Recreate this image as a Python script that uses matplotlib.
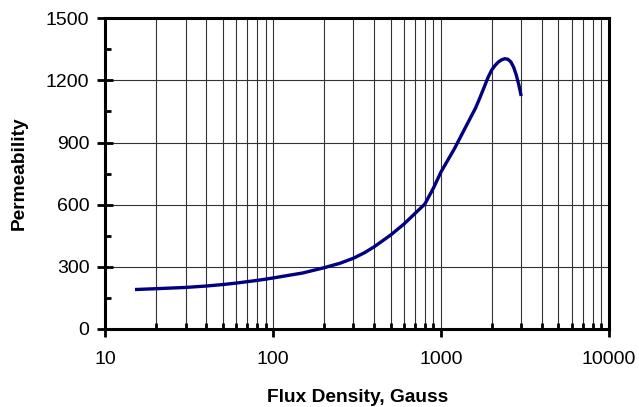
import matplotlib
matplotlib.use("Agg")
import matplotlib.pyplot as plt
from matplotlib.ticker import LogLocator, MultipleLocator, FixedLocator, NullFormatter

# Permeability curve
flux = [15, 20, 30, 40, 50, 60, 70, 80, 90, 100, 150, 200, 250, 300, 350, 400, 500, 600,
        700, 800, 900, 1000, 1200, 1400, 1600, 1700, 1800, 1900, 2000, 2100, 2200, 2300,
        2400, 2500, 2600, 2700, 2800, 2900, 3000]
perm = [190, 194, 200, 207, 214, 221, 228, 234, 240, 246, 270, 295, 317, 341, 368, 397, 453, 506,
        558, 603, 680, 759, 870, 975, 1065, 1115, 1165, 1213, 1250, 1273, 1290, 1300,
        1305, 1302, 1290, 1265, 1228, 1180, 1125]

x_ticks = [10, 100, 1000, 10000]
y_ticks = [0, 300, 600, 900, 1200, 1500]

plt.rcParams['font.family'] = ['Liberation Sans', 'DejaVu Sans']

fig = plt.figure(figsize=(6.39, 4.07), dpi=100)
ax = fig.add_axes([0.165, 0.192, 0.788, 0.763])

ax.plot(flux, perm, color='#000080', linewidth=2.4, solid_capstyle='butt',
        solid_joinstyle='round', zorder=3)

ax.set_xscale('log')
ax.set_xlim(10, 10000)
ax.set_ylim(0, 1500)

ax.xaxis.set_major_locator(FixedLocator(x_ticks))
ax.set_xticklabels([str(t) for t in x_ticks])
ax.xaxis.set_minor_locator(LogLocator(base=10, subs=range(2, 10)))
ax.xaxis.set_minor_formatter(NullFormatter())
ax.yaxis.set_major_locator(FixedLocator(y_ticks))
ax.yaxis.set_minor_locator(MultipleLocator(150))

# grid lines on every decade step, horizontal only at major y
ax.grid(True, which='both', axis='x', color='#333333', linewidth=0.8)
ax.grid(True, which='major', axis='y', color='#333333', linewidth=0.8)
ax.set_axisbelow(True)

for sp in ax.spines.values():
    sp.set_linewidth(2.2)
    sp.set_color('black')

ax.tick_params(axis='x', which='major', direction='out', length=6, width=2, labelsize=14, pad=10)
ax.tick_params(axis='x', which='minor', direction='in', length=4, width=2)
ax.tick_params(axis='y', which='major', direction='inout', length=11, width=2, labelsize=14, pad=6)
ax.tick_params(axis='y', which='minor', direction='in', length=4, width=2)

ax.set_xlabel('Flux Density, Gauss', fontsize=13.8, fontweight='bold', labelpad=15)
ax.set_ylabel('Permeability', fontsize=13.8, fontweight='bold', labelpad=13)

fig.savefig('out.png', dpi=100)
